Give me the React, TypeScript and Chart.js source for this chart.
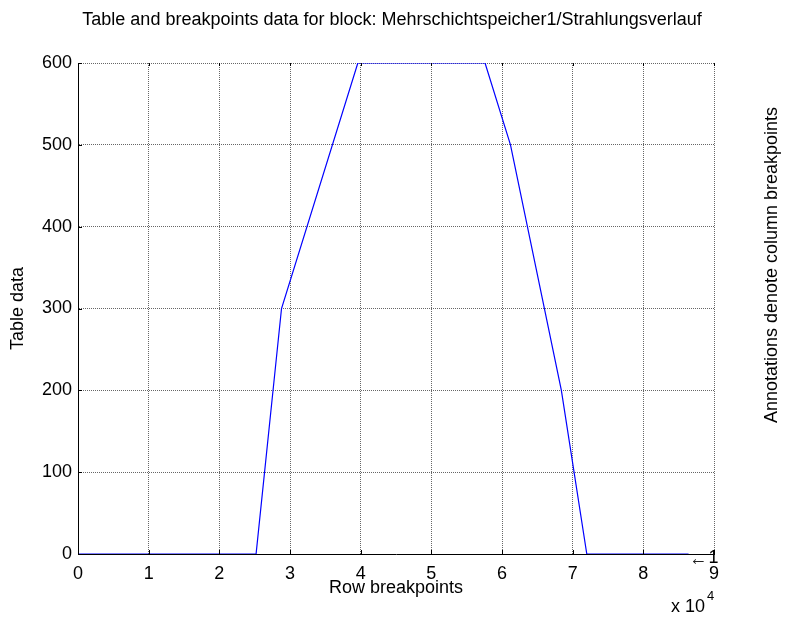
import React, { useEffect, useRef } from "react";
import { Chart, registerables } from "chart.js";

Chart.register(...registerables);

const rowBreakpoints = [0, 25200, 28800, 39600, 57600, 61200, 68400, 72000, 86400];
const tableData = [0, 0, 300, 600, 600, 500, 200, 0, 0];
const xTickValues = [0, 1, 2, 3, 4, 5, 6, 7, 8, 9];
const yTickValues = [0, 100, 200, 300, 400, 500, 600];
const titleText = "Table and breakpoints data for block: Mehrschichtspeicher1/Strahlungsverlauf";
const xLabel = "Row breakpoints";
const yLabel = "Table data";
const rightLabel = "Annotations denote column breakpoints";
const annotationArrow = "\u2190";
const annotationValue = "1";

const FONT = '"Liberation Sans", Arial, sans-serif';

const textPlugin = {
  id: "matlabText",
  afterDraw(chart: any) {
    const { ctx, chartArea, scales } = chart;
    ctx.save();
    ctx.fillStyle = "#000";
    // inward ticks
    ctx.strokeStyle = "#000";
    ctx.lineWidth = 1;
    ctx.beginPath();
    for (const v of xTickValues) {
      const px = Math.round(scales.x.getPixelForValue(v * 10000)) + 0.5;
      ctx.moveTo(px, chartArea.bottom);
      ctx.lineTo(px, chartArea.bottom - 4);
      ctx.moveTo(px, chartArea.top);
      ctx.lineTo(px, chartArea.top + 3);
    }
    for (const v of yTickValues) {
      const py = Math.round(scales.y.getPixelForValue(v)) + 0.5;
      ctx.moveTo(chartArea.left, py);
      ctx.lineTo(chartArea.left + 4, py);
    }
    ctx.stroke();

    ctx.font = "18px " + FONT;
    ctx.textBaseline = "alphabetic";
    ctx.textAlign = "center";
    ctx.fillText(titleText, 392, 25);
    ctx.fillText(xLabel, (chartArea.left + chartArea.right) / 2, 593);

    ctx.textAlign = "left";
    ctx.fillText("x 10", 671, 612);
    ctx.font = "13px " + FONT;
    ctx.fillText("4", 707, 600);

    // annotation at last column breakpoint
    const ax = scales.x.getPixelForValue(rowBreakpoints[rowBreakpoints.length - 1]);
    ctx.font = "22px " + FONT;
    const aw = ctx.measureText(annotationArrow).width;
    ctx.fillStyle = "#222";
    ctx.save();
    ctx.translate(ax + 1, 565);
    ctx.scale(18 / aw, 1);
    ctx.fillText(annotationArrow, 0, 0);
    ctx.restore();
    ctx.fillStyle = "#000";
    ctx.font = "18px " + FONT;
    ctx.fillText(annotationValue, ax + 20, 563);

    ctx.textAlign = "center";
    ctx.textBaseline = "middle";
    ctx.save();
    ctx.translate(18, (chartArea.top + chartArea.bottom) / 2);
    ctx.rotate(-Math.PI / 2);
    ctx.fillText(yLabel, 0, 0);
    ctx.restore();
    ctx.save();
    ctx.translate(772, 265);
    ctx.rotate(-Math.PI / 2);
    ctx.fillText(rightLabel, 0, 0);
    ctx.restore();
    ctx.restore();
  },
};

export default function App() {
  const ref = useRef<HTMLCanvasElement>(null);
  useEffect(() => {
    if (!ref.current) return;
    const chart = new Chart(ref.current, {
      type: "line",
      data: {
        datasets: [
          {
            data: rowBreakpoints.map((x, i) => ({ x, y: tableData[i] })),
            borderColor: "#0000ff",
            borderWidth: 1.2,
            pointRadius: 0,
            fill: false,
            tension: 0,
          },
        ],
      },
      options: {
        animation: false,
        responsive: true,
        maintainAspectRatio: false,
        layout: { padding: { left: 0, top: 63, right: 71, bottom: 0 } },
        plugins: { legend: { display: false }, tooltip: { enabled: false }, title: { display: false } },
        scales: {
          x: {
            type: "linear",
            min: 0,
            max: 90000,
            afterBuildTicks: (scale: any) => {
              scale.ticks = xTickValues.map((v) => ({ value: v * 10000 }));
            },
            afterFit: (scale: any) => {
              scale.height = 63;
            },
            ticks: {
              callback: (v: any) => String(Number(v) / 10000),
              color: "#000",
              font: { family: FONT, size: 18 },
              padding: 9,
              maxRotation: 0,
              autoSkip: false,
            },
            grid: { color: "#666", drawTicks: false, lineWidth: 1 },
            border: { display: true, color: "#000", width: 1, dash: [1, 1] },
          },
          y: {
            type: "linear",
            min: 0,
            max: 600,
            afterBuildTicks: (scale: any) => {
              scale.ticks = yTickValues.map((v) => ({ value: v }));
            },
            afterFit: (scale: any) => {
              scale.width = 78;
            },
            ticks: {
              color: "#000",
              font: { family: FONT, size: 18 },
              padding: 6,
              autoSkip: false,
            },
            grid: { color: "#666", drawTicks: false, lineWidth: 1 },
            border: { display: true, color: "#000", width: 1, dash: [1, 1] },
          },
        },
      },
      plugins: [textPlugin],
    } as any);
    return () => chart.destroy();
  }, []);
  return (
    <div style={{ position: "absolute", left: 0, top: 0, width: 785, height: 617, background: "#fff" }}>
      <canvas ref={ref} />
    </div>
  );
}
